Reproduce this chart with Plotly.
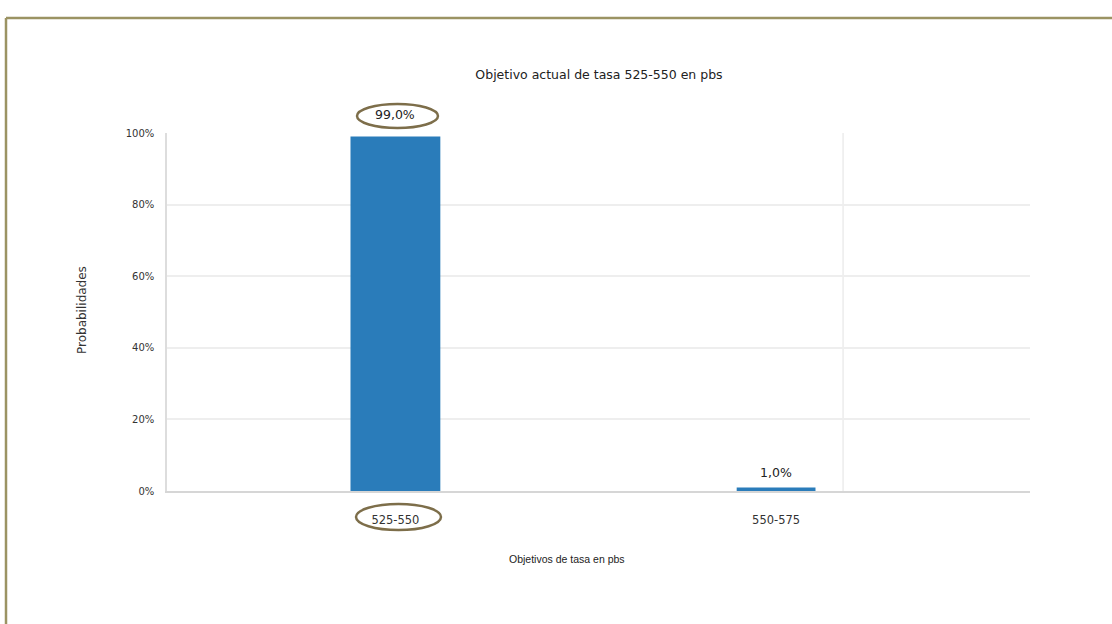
import plotly.graph_objects as go

categories = ["525-550", "550-575"]
probabilities = [99.0, 1.0]
y_ticks = [0, 20, 40, 60, 80, 100]
y_tick_labels = [f"{v}%" for v in y_ticks]

W, H = 1112, 624
L, R, T, B = 167, 1030, 133, 491

def px_x(p):
    return (p - L) / (R - L)

def px_y(p):
    return (B - p) / (B - T)

WIDE = "DejaVu Sans, Verdana, sans-serif"
NARROW = "Liberation Sans, Arial, sans-serif"

fig = go.Figure()
fig.add_trace(go.Bar(
    x=categories, y=probabilities,
    marker=dict(color="#2a7cba", line=dict(width=0)),
    width=[0.236, 0.207],
    hoverinfo="skip",
))

label_shift = [22, 15]
for c, v, s in zip(categories, probabilities, label_shift):
    fig.add_annotation(x=c, y=v, xref="x", yref="y", text=f"{v:.1f}%".replace(".", ","),
                       showarrow=False, yshift=s,
                       font=dict(family=WIDE, size=12.5, color="#222"))

frame_col = "#9b9363"
oval_col = "#7d6e4a"
shapes = [
    dict(type="line", xref="paper", yref="paper", x0=px_x(6), x1=px_x(1200), y0=px_y(18), y1=px_y(18),
         line=dict(color=frame_col, width=2.5)),
    dict(type="line", xref="paper", yref="paper", x0=px_x(6), x1=px_x(6), y0=px_y(18), y1=px_y(700),
         line=dict(color=frame_col, width=2.5)),
    dict(type="line", xref="x", yref="paper", x0=1.176, x1=1.176, y0=0, y1=1,
         line=dict(color="#ececec", width=1.5), layer="below"),
    dict(type="circle", xref="paper", yref="paper", x0=px_x(357), x1=px_x(438), y0=px_y(104), y1=px_y(128),
         line=dict(color=oval_col, width=2.5)),
    dict(type="circle", xref="paper", yref="paper", x0=px_x(356), x1=px_x(441), y0=px_y(504), y1=px_y(530),
         line=dict(color=oval_col, width=2.5)),
]

fig.update_layout(
    width=W, height=H,
    margin=dict(l=L, r=W - R, t=T, b=H - B, pad=0),
    paper_bgcolor="white", plot_bgcolor="white",
    showlegend=False,
    font=dict(family=WIDE, size=11, color="#333"),
    shapes=shapes,
    title=dict(text="Objetivo actual de tasa 525-550 en pbs", x=px_x(599), xref="paper",
               y=1 - 75 / H, yanchor="middle", xanchor="center",
               font=dict(family=WIDE, size=12.5, color="#222")),
    xaxis=dict(
        type="category", range=[-0.6, 1.667],
        showgrid=False, zeroline=False,
        showline=True, linecolor="#d6d6d6", linewidth=2,
        ticks="outside", ticklen=17, tickcolor="rgba(0,0,0,0)",
        tickfont=dict(family=WIDE, size=11.5, color="#333"),
        fixedrange=True,
    ),
    yaxis=dict(
        range=[0, 100], tickvals=y_ticks, ticktext=y_tick_labels,
        showgrid=True, gridcolor="#eeeeee", gridwidth=1.5,
        zeroline=False,
        showline=True, linecolor="#dddddd", linewidth=1.5,
        ticks="outside", ticklen=9, tickcolor="rgba(0,0,0,0)",
        tickfont=dict(family=WIDE, size=10, color="#333"),
        fixedrange=True,
    ),
)

fig.add_annotation(text="Probabilidades", xref="paper", yref="paper", x=px_x(73), y=px_y(310),
                   textangle=-90, showarrow=False,
                   font=dict(family=WIDE, size=12, color="#333"))
fig.add_annotation(text="Objetivos de tasa en pbs", xref="paper", yref="paper", x=px_x(567), y=px_y(567),
                   showarrow=False,
                   font=dict(family=NARROW, size=10.5, color="#222"))

fig.write_html("out.html", config={"displayModeBar": False})
